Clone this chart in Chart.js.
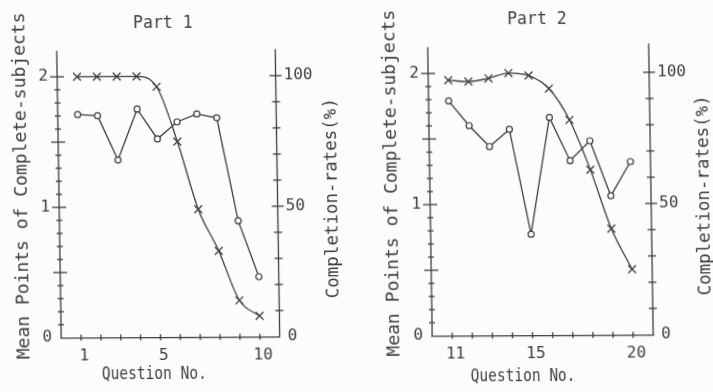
<!DOCTYPE html>
<html>
<head>
<meta charset="utf-8">
<title>Mean points and completion rates</title>
<script src="https://cdn.jsdelivr.net/npm/chart.js@4.4.1/dist/chart.umd.min.js"></script>
<style>
  html, body { margin: 0; padding: 0; background: #fcfcfb; }
  /* the scanned original leans a little, so the sheet is skewed the same way */
  #wrap {
    position: relative; width: 713px; height: 392px; overflow: hidden;
    transform: skewX(0.9deg) skewY(-0.3deg); transform-origin: 356px 196px;
  }
  canvas { position: absolute; top: 0; }
  #part1 { left: 0; }
  #part2 { left: 356px; }
</style>
</head>
<body>
<div id="wrap">
  <canvas id="part1" width="356" height="392"></canvas>
  <canvas id="part2" width="357" height="392"></canvas>
</div>
<script>
const part1Questions = [1, 2, 3, 4, 5, 6, 7, 8, 9, 10];
const part1MeanPoints = [1.71, 1.70, 1.36, 1.75, 1.52, 1.65, 1.71, 1.68, 0.89, 0.46];
const part1Completion = [100, 100, 100, 100, 96, 75, 49, 33, 14, 8];

const part2Questions = [11, 12, 13, 14, 15, 16, 17, 18, 19, 20];
const part2MeanPoints = [1.79, 1.60, 1.44, 1.57, 0.77, 1.66, 1.33, 1.48, 1.06, 1.32];
const part2Completion = [97.4, 96.8, 98, 100, 99, 94, 82, 63, 40.5, 25];

const part1XLabels = [1, 5, 10];
const part2XLabels = [11, 15, 20];
const meanTicks = [0, 1, 2];
const rateTicks = [0, 50, 100];

const INK = "#3d3d3d";
const PAPER = "#fcfcfb";
const MONO = "'DejaVu Sans Mono', 'Liberation Mono', monospace";

const toPoints = (xs, ys) => xs.map((q, i) => ({ x: q, y: ys[i] }));

// plotter style: ticks crossing the axes, axes of different heights, rotated titles
const plotterAxes = {
  id: "plotterAxes",
  afterDraw(chart, args, opts) {
    const { ctx, chartArea: area } = chart;
    const { x, y, y1 } = chart.scales;
    const seg = (ax, ay, bx, by) => {
      ctx.beginPath();
      ctx.moveTo(ax, ay);
      ctx.lineTo(bx, by);
      ctx.stroke();
    };
    const text = (str, px, py, size, rot, stretch) => {
      ctx.save();
      ctx.translate(px, py);
      ctx.rotate(rot);
      ctx.scale(1, stretch);
      ctx.font = `${size}px ${MONO}`;
      ctx.textAlign = "center";
      ctx.textBaseline = "alphabetic";
      ctx.fillText(str, 0, 0);
      ctx.restore();
    };

    ctx.save();
    ctx.strokeStyle = INK;
    ctx.fillStyle = INK;
    ctx.lineWidth = 1.3;

    seg(area.left, area.bottom, area.left, y.getPixelForValue(opts.leftTop));
    seg(area.right, area.bottom, area.right, y1.getPixelForValue(opts.rightTop));

    for (let i = 1; i <= 20; i++) {
      const py = y.getPixelForValue(i / 10);
      const half = i % 5 === 0 ? 7 : 3;
      seg(area.left - half, py, area.left + half, py);
    }
    for (let v = 10; v <= 100; v += 10) {
      const py = y1.getPixelForValue(v);
      const half = v % 50 === 0 ? 6 : 4;
      seg(area.right - half, py, area.right + half, py);
    }
    const qs = chart.data.datasets[0].data.map((p) => p.x);
    qs.forEach((q) => {
      const px = x.getPixelForValue(q);
      seg(px, area.bottom - 3, px, area.bottom + 3);
    });

    text(opts.title, area.left + opts.titleDx, area.top + opts.titleDy, 16.5, 0, 1.1);
    text("Question No.", area.left + opts.xTitleDx, area.bottom + opts.xTitleDy, 14.5, 0, 1.2);
    const midY = (area.top + area.bottom) / 2;
    text("Mean Points of Complete-subjects", area.left - opts.leftTitleDx, midY - 6, 18, -Math.PI / 2, 1);
    text("Completion-rates(%)", area.right + opts.rightTitleDx, midY + 8, 17.5, -Math.PI / 2, 1);
    ctx.restore();
  }
};

function makePanel(id, questions, means, rates, xLabels, geo) {
  const tickFont = { family: MONO, size: 16 };
  return new Chart(document.getElementById(id), {
    type: "line",
    data: {
      datasets: [
        {
          label: "Mean points",
          data: toPoints(questions, means),
          yAxisID: "y",
          borderColor: INK,
          borderWidth: 1.3,
          pointStyle: "circle",
          pointRadius: 3,
          pointBackgroundColor: PAPER,
          pointBorderColor: INK,
          pointBorderWidth: 1.2,
          tension: 0
        },
        {
          label: "Completion rate",
          data: toPoints(questions, rates),
          yAxisID: "y1",
          borderColor: INK,
          borderWidth: 1.3,
          pointStyle: "crossRot",
          pointRadius: 5.5,
          pointBorderColor: INK,
          pointBorderWidth: 1.3,
          cubicInterpolationMode: "monotone"
        }
      ]
    },
    options: {
      responsive: false,
      animation: false,
      layout: { padding: { top: geo.top, left: 0, right: 0, bottom: 0 } },
      plugins: {
        legend: { display: false },
        tooltip: { enabled: false },
        plotterAxes: geo
      },
      scales: {
        x: {
          type: "linear",
          min: questions[0] - 1,
          max: questions[questions.length - 1] + 1,
          afterBuildTicks: (s) => { s.ticks = xLabels.map((v) => ({ value: v })); },
          afterFit: (s) => { s.height = geo.xHeight; },
          ticks: { font: tickFont, color: INK, padding: 9, labelOffset: 3, maxRotation: 0, autoSkip: false },
          grid: { display: false, drawTicks: false },
          border: { color: INK, width: 1.3 }
        },
        y: {
          position: "left",
          min: 0,
          max: 2.24,
          afterBuildTicks: (s) => { s.ticks = meanTicks.map((v) => ({ value: v })); },
          afterFit: (s) => { s.width = geo.leftW; },
          ticks: { font: tickFont, color: INK, padding: 9 },
          grid: { display: false, drawTicks: false },
          border: { display: false }
        },
        y1: {
          position: "right",
          min: 0,
          max: 112,
          afterBuildTicks: (s) => { s.ticks = rateTicks.map((v) => ({ value: v })); },
          afterFit: (s) => { s.width = geo.rightW; },
          ticks: { font: tickFont, color: INK, padding: 8 },
          grid: { display: false, drawTicks: false },
          border: { display: false }
        }
      }
    },
    plugins: [plotterAxes]
  });
}

makePanel("part1", part1Questions, part1MeanPoints, part1Completion, part1XLabels, {
  top: 44.0, leftW: 59, rightW: 78.5, xHeight: 55.7,
  leftTop: 2.2, rightTop: 110.2,
  title: "Part 1", titleDx: 106.6, titleDy: -17,
  xTitleDx: 92.5, xTitleDy: 41.7,
  leftTitleDx: 31.8, rightTitleDx: 59.7
});

makePanel("part2", part2Questions, part2MeanPoints, part2Completion, part2XLabels, {
  top: 42.3, leftW: 74, rightW: 62, xHeight: 55.8,
  leftTop: 2.2, rightTop: 111,
  title: "Part 2", titleDx: 109.7, titleDy: -17.8,
  xTitleDx: 90.2, xTitleDy: 45.7,
  leftTitleDx: 33, rightTitleDx: 58
});
</script>
</body>
</html>
